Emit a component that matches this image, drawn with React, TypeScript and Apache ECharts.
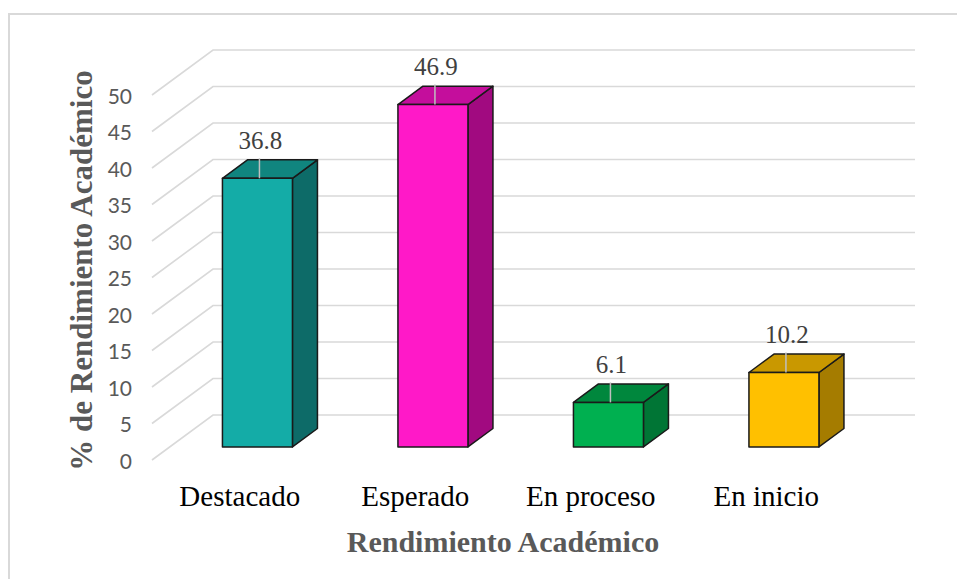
import React, { useEffect, useRef } from "react";
import * as echarts from "echarts";

// Categories and percentages
const categories = ["Destacado", "Esperado", "En proceso", "En inicio"];
const values = [36.8, 46.9, 6.1, 10.2];
const yTicks = [0, 5, 10, 15, 20, 25, 30, 35, 40, 45, 50];

// Face colours for each box: front, top, right side
const frontColors = ["#14ACA7", "#FF19C8", "#00B050", "#FFC000"];
const topColors = ["#10857F", "#C40E9C", "#00873D", "#C99800"];
const sideColors = ["#0D6B68", "#A10A80", "#007535", "#A57C00"];

// Perspective of the 3D frame: offset from the front floor edge to the back wall
const DEPTH_X = 61;
const DEPTH_Y = 45;
// Bars sit between these fractions of the depth
const BAR_FRONT = 0.29;
const BAR_BACK = 0.7;
const BAR_W = 70;

const GRID_COLOR = "#D9D9D9";
const OUTLINE = "#1A1A1A";

export default function App() {
  const ref = useRef<HTMLDivElement>(null);

  useEffect(() => {
    if (!ref.current) return;
    const chart = echarts.init(ref.current, undefined, { renderer: "svg" });

    const option: any = {
      animation: false,
      backgroundColor: "#FFFFFF",
      graphic: [
        {
          type: "rect",
          silent: true,
          z: -10,
          shape: { x: 9, y: 14, width: 960, height: 580 },
          style: { fill: "none", stroke: "#D9D9D9", lineWidth: 2 },
        },
      ],
      grid: { left: 152, right: 103, top: 95, bottom: 119 },
      xAxis: {
        type: "category",
        data: categories,
        axisLine: { show: false },
        axisTick: { show: false },
        splitLine: { show: false },
        axisLabel: {
          margin: 21,
          fontFamily: "Liberation Serif",
          fontSize: 29,
          color: "#000000",
        },
        name: "Rendimiento Académico",
        nameLocation: "middle",
        nameGap: 66,
        nameTextStyle: {
          fontFamily: "Liberation Serif",
          fontWeight: "bold",
          fontSize: 30,
          color: "#595959",
        },
      },
      yAxis: {
        type: "value",
        min: 0,
        max: 50,
        interval: 5,
        axisLine: { show: false },
        axisTick: { show: false },
        splitLine: { show: false },
        axisLabel: {
          margin: 20,
          fontFamily: "Lato",
          fontSize: 21,
          color: "#595959",
        },
        name: "% de Rendimiento Académico",
        nameLocation: "middle",
        nameGap: 49,
        nameTextStyle: {
          fontFamily: "Liberation Serif",
          fontWeight: "bold",
          fontSize: 31,
          color: "#595959",
          padding: [0, 0, 0, 14],
        },
      },
      series: [
        {
          // gridlines: diagonal on the left side wall, then across the back wall
          type: "custom",
          silent: true,
          z: 1,
          data: yTicks.map((t) => [0, t]),
          renderItem: (params: any, api: any) => {
            const cs = params.coordSys;
            const y = api.coord([0, api.value(1)])[1];
            const x0 = cs.x;
            return {
              type: "polyline",
              shape: {
                points: [
                  [x0, y],
                  [x0 + DEPTH_X, y - DEPTH_Y],
                  [x0 + cs.width + DEPTH_X, y - DEPTH_Y],
                ],
              },
              style: { stroke: GRID_COLOR, lineWidth: 1.6, fill: "none" },
            };
          },
        },
        {
          type: "custom",
          z: 2,
          data: values.map((v, i) => [i, v]),
          renderItem: (params: any, api: any) => {
            const i = api.value(0);
            const v = api.value(1);
            const base = api.coord([i, 0]);
            const top = api.coord([i, v]);
            const cx = base[0] + DEPTH_X * BAR_FRONT;
            const yb = base[1] - DEPTH_Y * BAR_FRONT;
            const yt = top[1] - DEPTH_Y * BAR_FRONT;
            const xl = cx - BAR_W / 2;
            const xr = cx + BAR_W / 2;
            const dx = DEPTH_X * (BAR_BACK - BAR_FRONT);
            const dy = DEPTH_Y * (BAR_BACK - BAR_FRONT);
            const stroke = { stroke: OUTLINE, lineWidth: 1.5, lineJoin: "round" };
            return {
              type: "group",
              children: [
                {
                  type: "polygon",
                  shape: {
                    points: [
                      [xr, yb],
                      [xr + dx, yb - dy],
                      [xr + dx, yt - dy],
                      [xr, yt],
                    ],
                  },
                  style: { fill: sideColors[i], ...stroke },
                },
                {
                  type: "polygon",
                  shape: {
                    points: [
                      [xl, yt],
                      [xr, yt],
                      [xr + dx, yt - dy],
                      [xl + dx, yt - dy],
                    ],
                  },
                  style: { fill: topColors[i], ...stroke },
                },
                {
                  type: "polygon",
                  shape: {
                    points: [
                      [xl, yb],
                      [xr, yb],
                      [xr, yt],
                      [xl, yt],
                    ],
                  },
                  style: { fill: frontColors[i], ...stroke },
                },
                {
                  type: "line",
                  shape: { x1: cx + 2, y1: yt - 20, x2: cx + 2, y2: yt },
                  style: { stroke: "#BFBFBF", lineWidth: 1.5 },
                },
                {
                  type: "text",
                  style: {
                    text: v.toFixed(1),
                    x: cx + 3,
                    y: yt - 38,
                    align: "center",
                    verticalAlign: "middle",
                    fontFamily: "Liberation Serif",
                    fontSize: 25,
                    fontWeight: "normal",
                    fill: "#404040",
                  },
                },
              ],
            };
          },
        },
      ],
    };

    chart.setOption(option);
    return () => chart.dispose();
  }, []);

  return (
    <div
      ref={ref}
      style={{ position: "absolute", left: 0, top: 0, width: 957, height: 579 }}
    />
  );
}
